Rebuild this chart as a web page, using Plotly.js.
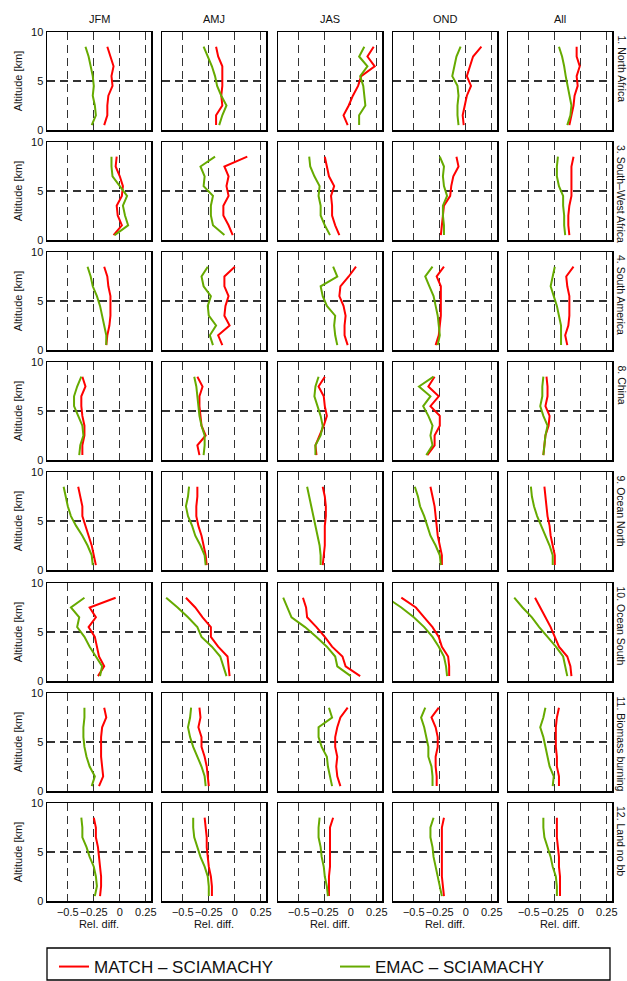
<!DOCTYPE html>
<html><head><meta charset="utf-8">
<script src="https://cdn.plot.ly/plotly-3.0.1.min.js"></script>
<style>html,body{margin:0;padding:0;background:#fff}#chart{width:627px;height:981px}</style>
</head><body><div id="chart"></div>
<script>
// ---- data (altitude levels in km, relative differences) ----
const altitudes = [0.5, 1.5, 2.5, 3.5, 4.5, 5.5, 6.5, 7.5, 8.5];
const seasons = ['JFM', 'AMJ', 'JAS', 'OND', 'All'];
const regions = ['1. North Africa', '3. South\u2013West Africa', '4. South America', '8. China',
                 '9. Ocean North', '10. Ocean South', '11. Biomass burning', '12. Land no bb'];
const xTickVals = [-0.5, -0.25, 0, 0.25];
const xTickText = ['\u22120.5', '\u22120.25', '0', '0.25'];
const yTickVals = [0, 5, 10];
const seriesNames = ['MATCH \u2013 SCIAMACHY', 'EMAC \u2013 SCIAMACHY'];

// each array: one list per season (JFM, AMJ, JAS, OND, All), values at altitudes 0.5 .. 8.5 km
const northAfricaMatch = [
  [-0.15,-0.12,-0.12,-0.11,-0.07,-0.08,-0.06,-0.09,-0.12],
  [-0.18,-0.18,-0.12,-0.13,-0.12,-0.12,-0.12,-0.16,-0.18],
  [-0.03,-0.07,-0.02,0.02,0.07,0.10,0.23,0.16,0.22],
  [-0.02,-0.03,-0.01,0.01,0.05,0.01,0.04,0.07,0.15],
  [-0.11,-0.09,-0.07,-0.06,-0.03,-0.04,-0.01,-0.04,-0.04]];
const northAfricaEmac = [
  [-0.27,-0.23,-0.24,-0.26,-0.25,-0.26,-0.28,-0.30,-0.33],
  [-0.15,-0.12,-0.08,-0.13,-0.17,-0.19,-0.22,-0.26,-0.30],
  [0.08,0.08,0.14,0.13,0.12,0.09,0.16,0.08,0.13],
  [-0.07,-0.08,-0.08,-0.07,-0.08,-0.13,-0.11,-0.09,-0.05],
  [-0.13,-0.10,-0.09,-0.11,-0.13,-0.145,-0.16,-0.18,-0.21]];
const swAfricaMatch = [
  [-0.06,0.02,-0.02,-0.03,0.02,0.03,0.0,-0.04,-0.03],
  [-0.02,-0.06,-0.11,-0.11,-0.06,-0.08,-0.06,-0.10,0.12],
  [-0.11,-0.15,-0.18,-0.18,-0.19,-0.16,-0.21,-0.23,-0.25],
  [-0.24,-0.23,-0.22,-0.21,-0.15,-0.14,-0.12,-0.07,-0.09],
  [-0.11,-0.12,-0.12,-0.11,-0.09,-0.09,-0.09,-0.09,-0.07]];
const swAfricaEmac = [
  [-0.05,0.08,0.05,0.03,0.07,0.0,-0.07,-0.08,-0.08],
  [-0.10,-0.21,-0.23,-0.23,-0.21,-0.30,-0.29,-0.33,-0.19],
  [-0.20,-0.25,-0.29,-0.29,-0.31,-0.30,-0.35,-0.39,-0.40],
  [-0.21,-0.21,-0.22,-0.22,-0.18,-0.21,-0.22,-0.21,-0.25],
  [-0.15,-0.16,-0.16,-0.17,-0.17,-0.21,-0.23,-0.23,-0.22]];
const southAmericaMatch = [
  [-0.13,-0.12,-0.10,-0.09,-0.09,-0.09,-0.11,-0.12,-0.15],
  [-0.12,-0.16,-0.05,-0.10,-0.09,-0.06,-0.10,-0.10,0.0],
  [-0.03,-0.06,-0.06,-0.05,-0.07,-0.11,-0.10,-0.02,0.05],
  [-0.29,-0.26,-0.25,-0.24,-0.24,-0.24,-0.24,-0.28,-0.21],
  [-0.13,-0.15,-0.12,-0.11,-0.11,-0.11,-0.13,-0.14,-0.07]];
const southAmericaEmac = [
  [-0.13,-0.13,-0.15,-0.17,-0.19,-0.22,-0.26,-0.28,-0.31],
  [-0.21,-0.24,-0.18,-0.25,-0.26,-0.23,-0.30,-0.32,-0.26],
  [-0.13,-0.15,-0.16,-0.15,-0.23,-0.27,-0.29,-0.13,-0.17],
  [-0.27,-0.25,-0.26,-0.27,-0.29,-0.31,-0.35,-0.39,-0.32],
  [-0.19,-0.19,-0.19,-0.21,-0.23,-0.26,-0.29,-0.27,-0.25]];
const chinaMatch = [
  [-0.36,-0.36,-0.34,-0.34,-0.36,-0.37,-0.37,-0.33,-0.36],
  [-0.34,-0.36,-0.28,-0.32,-0.33,-0.34,-0.34,-0.31,-0.36],
  [-0.33,-0.34,-0.30,-0.26,-0.23,-0.25,-0.26,-0.31,-0.25],
  [-0.37,-0.30,-0.30,-0.25,-0.25,-0.34,-0.26,-0.36,-0.30],
  [-0.36,-0.35,-0.34,-0.31,-0.30,-0.34,-0.32,-0.32,-0.33]];
const chinaEmac = [
  [-0.39,-0.38,-0.35,-0.36,-0.40,-0.44,-0.44,-0.41,-0.37],
  [-0.30,-0.29,-0.29,-0.32,-0.34,-0.35,-0.36,-0.37,-0.39],
  [-0.34,-0.34,-0.29,-0.27,-0.29,-0.32,-0.35,-0.34,-0.31],
  [-0.38,-0.32,-0.34,-0.32,-0.36,-0.41,-0.34,-0.45,-0.31],
  [-0.36,-0.35,-0.34,-0.32,-0.36,-0.39,-0.37,-0.37,-0.36]];
const oceanNorthMatch = [
  [-0.23,-0.25,-0.27,-0.30,-0.33,-0.36,-0.36,-0.38,-0.40],
  [-0.27,-0.28,-0.30,-0.32,-0.35,-0.37,-0.37,-0.36,-0.36],
  [-0.27,-0.26,-0.25,-0.25,-0.25,-0.24,-0.24,-0.25,-0.27],
  [-0.23,-0.23,-0.25,-0.27,-0.28,-0.29,-0.30,-0.32,-0.34],
  [-0.25,-0.25,-0.27,-0.29,-0.30,-0.32,-0.33,-0.34,-0.35]];
const oceanNorthEmac = [
  [-0.26,-0.27,-0.31,-0.36,-0.42,-0.47,-0.50,-0.52,-0.54],
  [-0.28,-0.29,-0.33,-0.38,-0.41,-0.45,-0.47,-0.45,-0.44],
  [-0.29,-0.29,-0.30,-0.32,-0.34,-0.36,-0.38,-0.40,-0.42],
  [-0.24,-0.25,-0.29,-0.34,-0.37,-0.40,-0.44,-0.46,-0.49],
  [-0.27,-0.27,-0.30,-0.34,-0.38,-0.42,-0.45,-0.47,-0.48]];
const oceanSouthMatch = [
  [-0.21,-0.15,-0.20,-0.22,-0.24,-0.30,-0.23,-0.29,-0.04],
  [-0.05,-0.06,-0.07,-0.16,-0.23,-0.23,-0.31,-0.38,-0.47],
  [0.09,-0.05,-0.08,-0.18,-0.25,-0.33,-0.42,-0.43,-0.46],
  [-0.16,-0.16,-0.17,-0.23,-0.26,-0.32,-0.40,-0.48,-0.62],
  [-0.09,-0.10,-0.13,-0.21,-0.25,-0.29,-0.34,-0.39,-0.44]];
const oceanSouthEmac = [
  [-0.19,-0.17,-0.23,-0.29,-0.34,-0.41,-0.39,-0.47,-0.34],
  [-0.08,-0.11,-0.14,-0.22,-0.32,-0.36,-0.45,-0.55,-0.66],
  [0.0,-0.13,-0.15,-0.23,-0.33,-0.44,-0.57,-0.61,-0.65],
  [-0.18,-0.19,-0.21,-0.26,-0.32,-0.40,-0.50,-0.62,-0.76],
  [-0.13,-0.15,-0.17,-0.24,-0.32,-0.40,-0.47,-0.56,-0.64]];
const biomassMatch = [
  [-0.20,-0.16,-0.17,-0.18,-0.18,-0.18,-0.17,-0.13,-0.15],
  [-0.25,-0.26,-0.27,-0.29,-0.32,-0.32,-0.35,-0.33,-0.34],
  [-0.10,-0.13,-0.14,-0.13,-0.15,-0.15,-0.13,-0.10,-0.03],
  [-0.28,-0.28,-0.29,-0.29,-0.27,-0.27,-0.29,-0.33,-0.26],
  [-0.21,-0.21,-0.23,-0.23,-0.24,-0.24,-0.24,-0.23,-0.21]];
const biomassEmac = [
  [-0.27,-0.24,-0.29,-0.32,-0.34,-0.35,-0.35,-0.34,-0.34],
  [-0.28,-0.29,-0.32,-0.36,-0.40,-0.43,-0.45,-0.43,-0.42],
  [-0.18,-0.20,-0.22,-0.23,-0.28,-0.31,-0.31,-0.18,-0.21],
  [-0.32,-0.32,-0.33,-0.36,-0.36,-0.38,-0.40,-0.43,-0.39],
  [-0.27,-0.26,-0.30,-0.32,-0.34,-0.36,-0.39,-0.36,-0.34]];
const landNoBbMatch = [
  [-0.19,-0.18,-0.18,-0.19,-0.20,-0.21,-0.23,-0.23,-0.25],
  [-0.22,-0.22,-0.23,-0.25,-0.26,-0.27,-0.27,-0.28,-0.29],
  [-0.21,-0.21,-0.21,-0.20,-0.20,-0.20,-0.20,-0.20,-0.17],
  [-0.21,-0.22,-0.23,-0.23,-0.23,-0.23,-0.23,-0.23,-0.21],
  [-0.20,-0.20,-0.20,-0.21,-0.21,-0.22,-0.23,-0.23,-0.23]];
const landNoBbEmac = [
  [-0.24,-0.22,-0.23,-0.25,-0.29,-0.32,-0.36,-0.36,-0.37],
  [-0.25,-0.25,-0.26,-0.29,-0.33,-0.36,-0.39,-0.40,-0.40],
  [-0.22,-0.23,-0.25,-0.26,-0.28,-0.29,-0.31,-0.31,-0.30],
  [-0.23,-0.25,-0.27,-0.29,-0.31,-0.32,-0.34,-0.34,-0.31],
  [-0.23,-0.23,-0.24,-0.27,-0.29,-0.32,-0.35,-0.36,-0.36]];

const matchByRegion = [northAfricaMatch, swAfricaMatch, southAmericaMatch, chinaMatch,
                       oceanNorthMatch, oceanSouthMatch, biomassMatch, landNoBbMatch];
const emacByRegion = [northAfricaEmac, swAfricaEmac, southAmericaEmac, chinaEmac,
                      oceanNorthEmac, oceanSouthEmac, biomassEmac, landNoBbEmac];

// ---- layout geometry (pixels) ----
const W = 627, H = 981;
const colLefts = [47, 162, 278, 393, 508], panelW = 104;
const top0 = 32, rowStep = 110.1, panelH = 98;
const RED = '#ff0000', GREEN = '#66aa00';
const FONT = 'Liberation Sans, Arial, Helvetica, sans-serif';

const traces = [];
const layout = {
  width: W, height: H,
  margin: {l: 0, r: 0, t: 0, b: 0, autoexpand: false},
  paper_bgcolor: '#fff', plot_bgcolor: '#fff',
  font: {family: FONT, size: 11, color: '#111'},
  showlegend: true,
  legend: {
    orientation: 'h', x: 54 / W, xanchor: 'left', y: 1 - 949 / H, yanchor: 'top',
    borderwidth: 0, bgcolor: 'rgba(0,0,0,0)',
    font: {family: FONT, size: 17, color: '#111'},
    entrywidth: 236, itemwidth: 30
  },
  annotations: [],
  shapes: [{
    type: 'rect', xref: 'paper', yref: 'paper',
    x0: 47 / W, x1: 610 / W, y0: 1 - 980 / H, y1: 1 - 948 / H,
    line: {color: '#000', width: 1.3}, fillcolor: 'rgba(0,0,0,0)', layer: 'below'
  }]
};

for (let r = 0; r < regions.length; r++) {
  for (let c = 0; c < seasons.length; c++) {
    const k = r * seasons.length + c + 1;
    const xa = 'x' + (k === 1 ? '' : k), ya = 'y' + (k === 1 ? '' : k);
    const xl = 'xaxis' + (k === 1 ? '' : k), yl = 'yaxis' + (k === 1 ? '' : k);
    const xPx0 = colLefts[c], yPxTop = Math.round(top0 + r * rowStep);
    const base = {
      showline: true, mirror: true, linecolor: '#000', linewidth: 1.5,
      zeroline: false, showgrid: true, gridcolor: '#333', gridwidth: 1.1,
      griddash: '8px,5px', ticks: '', fixedrange: true, automargin: false,
      tickfont: {family: FONT, size: 11, color: '#111'}
    };
    layout[xl] = Object.assign({}, base, {
      domain: [xPx0 / W, (xPx0 + panelW) / W], anchor: ya,
      range: [-0.7, 0.3], tickmode: 'array', tickvals: xTickVals, ticktext: xTickText,
      tickangle: 0,
      showticklabels: r === regions.length - 1,
      title: r === regions.length - 1 ? {text: 'Rel. diff.', font: {family: FONT, size: 11, color: '#111'}, standoff: 2} : {text: ''}
    });
    layout[yl] = Object.assign({}, base, {
      domain: [1 - (yPxTop + panelH) / H, 1 - yPxTop / H], anchor: xa,
      range: [0, 10], tickmode: 'array', tickvals: yTickVals,
      showticklabels: c === 0,
      title: c === 0 ? {text: 'Altitude [km]', font: {family: FONT, size: 11, color: '#111'}, standoff: 6} : {text: ''}
    });
    traces.push({
      type: 'scatter', mode: 'lines', x: matchByRegion[r][c], y: altitudes,
      xaxis: xa, yaxis: ya, line: {color: RED, width: 2},
      name: seriesNames[0], showlegend: k === 1, legendrank: 1, hoverinfo: 'skip'
    });
    traces.push({
      type: 'scatter', mode: 'lines', x: emacByRegion[r][c], y: altitudes,
      xaxis: xa, yaxis: ya, line: {color: GREEN, width: 2},
      name: seriesNames[1], showlegend: k === 1, legendrank: 2, hoverinfo: 'skip'
    });
    if (r === 0) {
      layout.annotations.push({
        xref: 'paper', yref: 'paper', x: (xPx0 + panelW / 2) / W, y: 1 - 19 / H,
        xanchor: 'center', yanchor: 'middle', showarrow: false, text: seasons[c],
        font: {family: FONT, size: 11, color: '#111'}
      });
    }
    if (c === seasons.length - 1) {
      layout.annotations.push({
        xref: 'paper', yref: 'paper', x: 621 / W, y: 1 - (yPxTop + 1) / H,
        xanchor: 'center', yanchor: 'top', showarrow: false, textangle: 90,
        text: regions[r], font: {family: FONT, size: 10.5, color: '#111'}
      });
    }
  }
}

Plotly.newPlot('chart', traces, layout, {staticPlot: true, displayModeBar: false});
</script></body></html>
